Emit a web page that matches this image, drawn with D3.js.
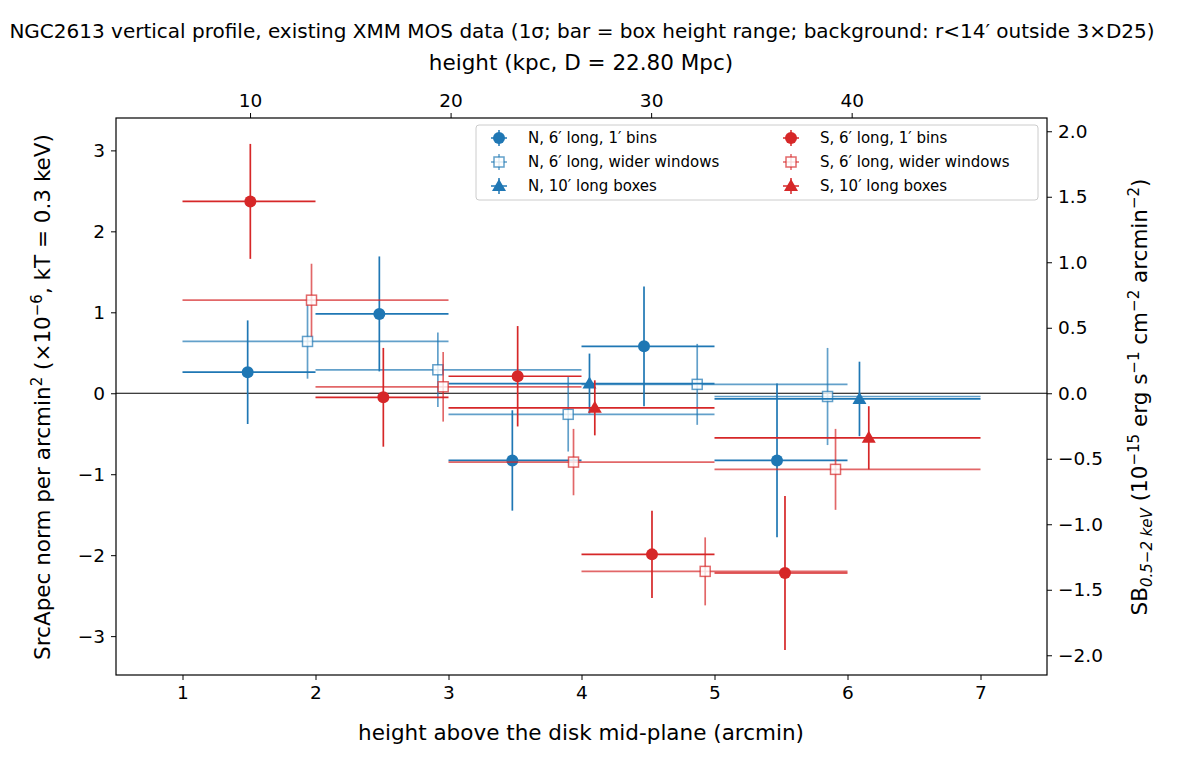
<!DOCTYPE html>
<html><head><meta charset="utf-8">
<script src="https://cdn.jsdelivr.net/npm/d3@7"></script>
<style>body{margin:0;background:#fff}text{font-family:"DejaVu Sans",sans-serif}</style>
</head><body><svg id="c" width="1184" height="768"></svg>
<script>
// each row: [x, xlo, xhi, y, yerr]
const N_1bins   = [[1.49,1,2,0.26,0.64],[2.48,2,3,0.98,0.71],[3.48,3,4,-0.83,0.62],[4.47,4,5,0.58,0.74],[5.47,5,6,-0.83,0.95]];
const N_wide    = [[1.94,1,3,0.64,0.46],[2.92,2,4,0.29,0.46],[3.90,3,5,-0.26,0.46],[4.87,4,6,0.11,0.50],[5.85,5,7,-0.04,0.60]];
const N_10      = [[4.06,3,5,0.12,0.37],[6.09,5,7,-0.07,0.46]];
const S_1bins   = [[1.51,1,2,2.37,0.71],[2.51,2,3,-0.05,0.61],[3.52,3,4,0.21,0.62],[4.53,4,5,-1.99,0.54],[5.53,5,6,-2.22,0.95]];
const S_wide    = [[1.97,1,3,1.15,0.45],[2.96,2,4,0.08,0.43],[3.94,3,5,-0.85,0.41],[4.93,4,6,-2.20,0.42],[5.91,5,7,-0.94,0.50]];
const S_10      = [[4.10,3,5,-0.18,0.34],[6.16,5,7,-0.55,0.39]];
const xTicks = [1,2,3,4,5,6,7];
const yTicks = [-3,-2,-1,0,1,2,3];
const rTicks = [-2.0,-1.5,-1.0,-0.5,0.0,0.5,1.0,1.5,2.0];
const topTicks = [10,20,30,40];
const kpcPerArcmin = 6.632;
const sbFactor = 0.618;

const svg = d3.select("#c");
const L=116,R=1047,T=118,B=675;
const x = d3.scaleLinear().domain([0.5,7.5]).range([L,R]);
const y = d3.scaleLinear().domain([-3.48,3.40]).range([B,T]);
const yr = d3.scaleLinear().domain([-3.48*sbFactor,3.40*sbFactor]).range([B,T]);
const xt = d3.scaleLinear().domain([0.5*kpcPerArcmin,7.5*kpcPerArcmin]).range([L,R]);

const g = svg.append("g");
g.append("line").attr("x1",L).attr("x2",R).attr("y1",y(0)).attr("y2",y(0)).attr("stroke","#000").attr("stroke-width",1);

const blue="#1f77b4", red="#d62728";
const series=[
 {d:N_1bins,c:blue,op:1,m:"o"},{d:N_wide,c:blue,op:0.7,m:"s"},{d:N_10,c:blue,op:1,m:"^"},
 {d:S_1bins,c:red,op:1,m:"o"},{d:S_wide,c:red,op:0.7,m:"s"},{d:S_10,c:red,op:1,m:"^"}];

function marker(sel,m,c,op,cx,cy){
  if(m==="o") sel.append("circle").attr("cx",cx).attr("cy",cy).attr("r",6).attr("fill",c).attr("opacity",op);
  else if(m==="s") sel.append("rect").attr("x",cx-5).attr("y",cy-5).attr("width",10).attr("height",10)
     .attr("fill","#fff").attr("fill-opacity",0.8).attr("stroke",c).attr("stroke-opacity",op).attr("stroke-width",1.5);
  else sel.append("path").attr("d",`M${cx},${cy-7}L${cx+7},${cy+5}L${cx-7},${cy+5}Z`).attr("fill",c).attr("opacity",op);
}
series.forEach(s=>{
  s.d.forEach(p=>{
    const gg=g.append("g");
    gg.append("line").attr("x1",x(p[1])).attr("x2",x(p[2])).attr("y1",y(p[3])).attr("y2",y(p[3])).attr("stroke",s.c).attr("stroke-opacity",s.op).attr("stroke-width",1.7);
    gg.append("line").attr("x1",x(p[0])).attr("x2",x(p[0])).attr("y1",y(p[3]-p[4])).attr("y2",y(p[3]+p[4])).attr("stroke",s.c).attr("stroke-opacity",s.op).attr("stroke-width",1.7);
    marker(gg,s.m,s.c,s.op,x(p[0]),y(p[3]));
  });
});

svg.append("rect").attr("x",L).attr("y",T).attr("width",R-L).attr("height",B-T).attr("fill","none").attr("stroke","#000").attr("stroke-width",1.2);

function styleAx(a){a.selectAll("text").attr("font-size",18.5).attr("font-family","DejaVu Sans").attr("fill","#000");a.select(".domain").remove();a.selectAll("line").attr("stroke","#000");}
styleAx(svg.append("g").attr("transform",`translate(0,${B})`).call(d3.axisBottom(x).tickValues(xTicks).tickSize(5).tickPadding(6).tickFormat(d3.format("d"))));
styleAx(svg.append("g").attr("transform",`translate(${L},0)`).call(d3.axisLeft(y).tickValues(yTicks).tickSize(5).tickPadding(6).tickFormat(d=>d<0?"−"+(-d):d)));
styleAx(svg.append("g").attr("transform",`translate(${R},0)`).call(d3.axisRight(yr).tickValues(rTicks).tickSize(5).tickPadding(6).tickFormat(d=>(d<0?"−":"")+Math.abs(d).toFixed(1))));
styleAx(svg.append("g").attr("transform",`translate(0,${T})`).call(d3.axisTop(xt).tickValues(topTicks).tickSize(5).tickPadding(6)));

svg.append("text").attr("x",582).attr("y",38).attr("text-anchor","middle").attr("font-size",20)
 .text("NGC2613 vertical profile, existing XMM MOS data (1σ; bar = box height range; background: r<14′ outside 3×D25)");
svg.append("text").attr("x",581).attr("y",70).attr("text-anchor","middle").attr("font-size",21.5).text("height (kpc, D = 22.80 Mpc)");
svg.append("text").attr("x",581).attr("y",740).attr("text-anchor","middle").attr("font-size",21.5).text("height above the disk mid-plane (arcmin)");
const yl=svg.append("text").attr("transform","translate(50,397) rotate(-90)").attr("text-anchor","middle").attr("font-size",21.5);
yl.append("tspan").text("SrcApec norm per arcmin");
yl.append("tspan").attr("font-size",15).attr("dy",-8).text("2");
yl.append("tspan").attr("dy",8).text("  (×10");
yl.append("tspan").attr("font-size",15).attr("dy",-8).text("−6");
yl.append("tspan").attr("dy",8).text(", kT = 0.3 keV)");
const rl=svg.append("text").attr("transform","translate(1147,397) rotate(-90)").attr("text-anchor","middle").attr("font-size",21.5);
rl.append("tspan").text("SB");
rl.append("tspan").attr("font-size",15).attr("dy",5).attr("font-style","italic").text("0.5−2 keV");
rl.append("tspan").attr("dy",-5).text(" (10");
rl.append("tspan").attr("font-size",15).attr("dy",-8).text("−15");
rl.append("tspan").attr("dy",8).text(" erg s");
rl.append("tspan").attr("font-size",15).attr("dy",-8).text("−1");
rl.append("tspan").attr("dy",8).text(" cm");
rl.append("tspan").attr("font-size",15).attr("dy",-8).text("−2");
rl.append("tspan").attr("dy",8).text(" arcmin");
rl.append("tspan").attr("font-size",15).attr("dy",-8).text("−2");
rl.append("tspan").attr("dy",8).text(")");

// legend
const labels=["N, 6′ long, 1′ bins","N, 6′ long, wider windows","N, 10′ long boxes","S, 6′ long, 1′ bins","S, 6′ long, wider windows","S, 10′ long boxes"];
const lg=svg.append("g");
lg.append("rect").attr("x",476).attr("y",125).attr("width",562).attr("height",75).attr("rx",3).attr("fill","#fff").attr("fill-opacity",0.8).attr("stroke","#ccc");
series.forEach((s,i)=>{
  const cx=i<3?499:791, cy=138+24*(i%3);
  const gg=lg.append("g");
  gg.append("line").attr("x1",cx).attr("x2",cx).attr("y1",cy-8).attr("y2",cy+8).attr("stroke",s.c).attr("stroke-opacity",s.op).attr("stroke-width",1.5);
  gg.append("line").attr("x1",cx-8).attr("x2",cx+8).attr("y1",cy).attr("y2",cy).attr("stroke",s.c).attr("stroke-opacity",s.op).attr("stroke-width",1.5);
  marker(gg,s.m,s.c,s.op,cx,cy);
  lg.append("text").attr("x",cx+29).attr("y",cy+5).attr("font-size",15).text(labels[i]);
});
</script></body></html>
